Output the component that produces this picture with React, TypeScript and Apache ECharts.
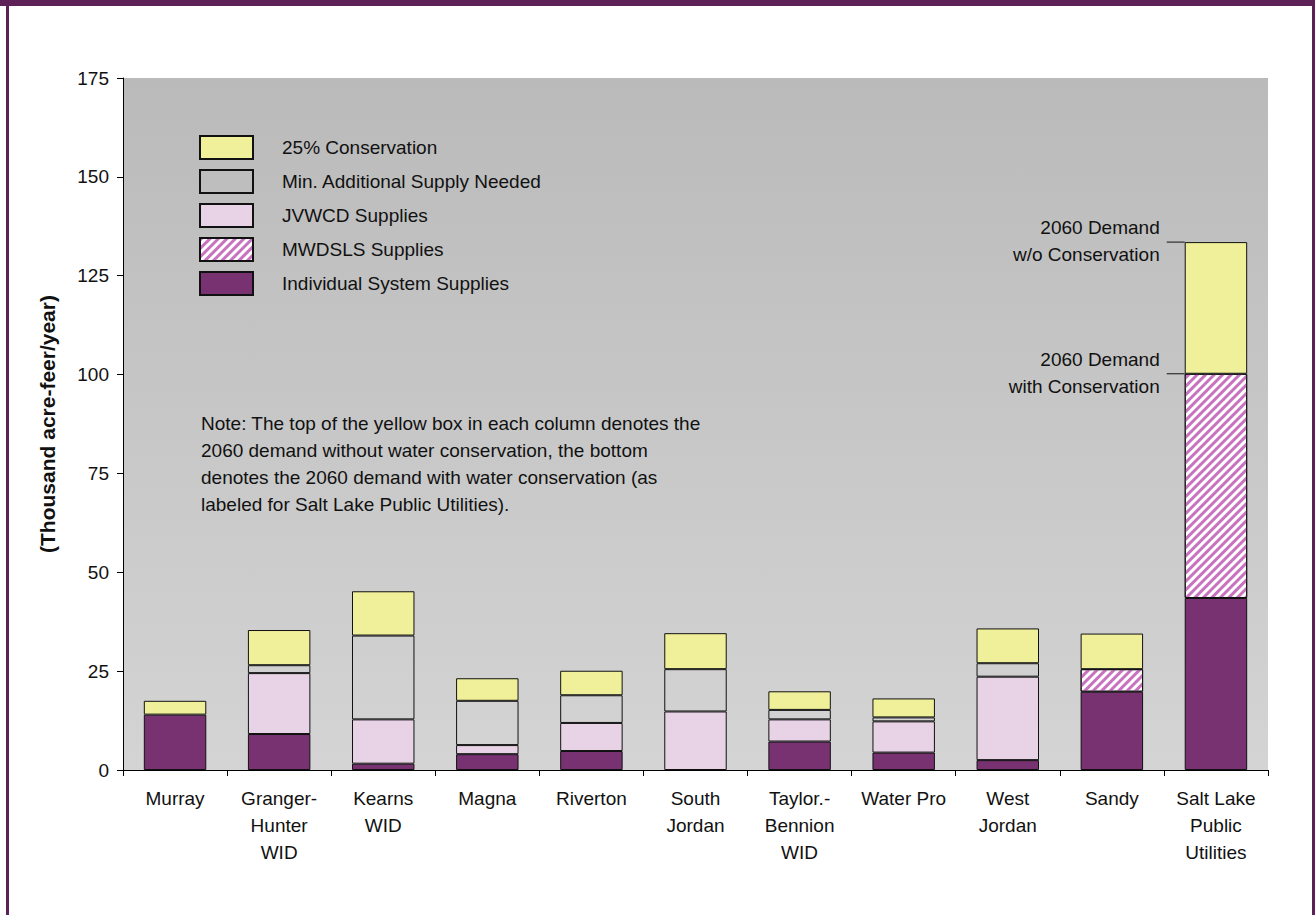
import React, { useEffect, useRef } from "react";
import * as echarts from "echarts";

const categories = [
  "Murray",
  "Granger-\nHunter\nWID",
  "Kearns\nWID",
  "Magna",
  "Riverton",
  "South\nJordan",
  "Taylor.-\nBennion\nWID",
  "Water Pro",
  "West\nJordan",
  "Sandy",
  "Salt Lake\nPublic\nUtilities",
];

const individualSystem = [14.0, 9.1, 1.6, 4.0, 4.8, 0, 7.2, 4.4, 2.5, 19.8, 43.5];
const mwdslsSupplies = [0, 0, 0, 0, 0, 0, 0, 0, 0, 5.7, 56.7];
const jvwcdSupplies = [0, 15.4, 11.2, 2.3, 7.1, 14.8, 5.6, 7.9, 21.1, 0, 0];
const minAdditional = [0, 2.0, 21.2, 11.2, 7.0, 10.7, 2.4, 1.0, 3.4, 0, 0];
const conservation25 = [3.5, 8.9, 11.2, 5.7, 6.2, 9.1, 4.7, 4.8, 8.8, 9.0, 33.3];

const yMin = 0;
const yMax = 175;
const yStep = 25;

const noteLines = [
  "Note: The top of the yellow box in each column denotes the",
  "2060 demand without water conservation, the bottom",
  "denotes the 2060 demand with water conservation (as",
  "labeled for Salt Lake Public Utilities).",
];
const annotTop = ["2060 Demand", "w/o Conservation"];
const annotBottom = ["2060 Demand", "with Conservation"];

const FONT = "'Liberation Sans', Arial, Helvetica, sans-serif";
const FRAME = "#5E2157";

const nz = (arr: number[]) => arr.map((v) => (v === 0 ? "-" : v));

export default function App() {
  const ref = useRef<HTMLDivElement>(null);
  useEffect(() => {
    const chart = echarts.init(ref.current!, null, { renderer: "svg" });
    const border = { borderColor: "#111", borderWidth: 1 };
    const option: any = {
      animation: false,
      backgroundColor: "#ffffff",
      textStyle: { fontFamily: FONT },
      grid: {
        left: 123,
        right: 47,
        top: 78,
        bottom: 145,
        show: true,
        borderWidth: 0,
        backgroundColor: new echarts.graphic.LinearGradient(0, 0, 0, 1, [
          { offset: 0, color: "#BABABA" },
          { offset: 1, color: "#D4D4D4" },
        ]),
      },
      legend: {
        orient: "vertical",
        left: 194,
        top: 130,
        itemWidth: 53,
        itemHeight: 23,
        itemGap: 9,
        icon: "rect",
        selectedMode: false,
        textStyle: { fontSize: 19, color: "#111", fontFamily: FONT, padding: [0, 0, 0, 24] },
        data: [
          "25% Conservation",
          "Min. Additional Supply Needed",
          "JVWCD Supplies",
          "MWDSLS Supplies",
          "Individual System Supplies",
        ],
      },
      xAxis: {
        type: "category",
        data: categories,
        axisLine: { lineStyle: { color: "#000", width: 1 } },
        axisTick: { show: true, length: 6, lineStyle: { color: "#000" } },
        axisLabel: {
          interval: 0,
          fontSize: 19,
          lineHeight: 27,
          color: "#111",
          margin: 15,
          fontFamily: FONT,
        },
      },
      yAxis: {
        type: "value",
        min: yMin,
        max: yMax,
        interval: yStep,
        name: "(Thousand acre-feer/year)",
        nameLocation: "middle",
        nameRotate: 90,
        nameGap: 65,
        nameTextStyle: { fontSize: 21, fontWeight: "bold", color: "#111", fontFamily: FONT },
        axisLine: { show: true, lineStyle: { color: "#000", width: 1 } },
        axisTick: { show: true, length: 6, lineStyle: { color: "#000" } },
        splitLine: { show: false },
        axisLabel: { fontSize: 19, color: "#111", margin: 14, fontFamily: FONT },
      },
      series: [
        {
          name: "Individual System Supplies",
          type: "bar",
          stack: "s",
          barCategoryGap: "40%",
          data: nz(individualSystem),
          itemStyle: { color: "#783272", ...border },
        },
        {
          name: "MWDSLS Supplies",
          type: "bar",
          stack: "s",
          data: nz(mwdslsSupplies),
          itemStyle: {
            color: "#FFFFFF",
            ...border,
            decal: {
              symbol: "rect",
              symbolSize: 1,
              dashArrayX: [1, 0],
              dashArrayY: [3, 2.5],
              rotation: -Math.PI / 4,
              color: "#C873C0",
            },
          },
        },
        {
          name: "JVWCD Supplies",
          type: "bar",
          stack: "s",
          data: nz(jvwcdSupplies),
          itemStyle: { color: "#E8D2E6", ...border },
        },
        {
          name: "Min. Additional Supply Needed",
          type: "bar",
          stack: "s",
          data: nz(minAdditional),
          itemStyle: { color: "rgba(0,0,0,0)", ...border },
        },
        {
          name: "25% Conservation",
          type: "bar",
          stack: "s",
          data: nz(conservation25),
          itemStyle: { color: "#F0F09A", ...border },
        },
      ],
    };
    chart.setOption(option);

    const idx = categories.length - 1;
    const total =
      individualSystem[idx] + mwdslsSupplies[idx] + jvwcdSupplies[idx] + minAdditional[idx] + conservation25[idx];
    const withCons = total - conservation25[idx];
    const pTop = chart.convertToPixel({ gridIndex: 0 }, [idx, total]) as number[];
    const pWith = chart.convertToPixel({ gridIndex: 0 }, [idx, withCons]) as number[];
    const pPrev = chart.convertToPixel({ gridIndex: 0 }, [idx - 1, withCons]) as number[];
    const catW = pTop[0] - pPrev[0];
    const barLeft = pTop[0] - catW * 0.3;

    const textStyle = { fontSize: 19, fill: "#111", fontFamily: FONT, lineHeight: 27 };
    const graphic: any[] = [
      { type: "rect", shape: { x: 0, y: 0, width: 1315, height: 6 }, style: { fill: FRAME }, z: 100 },
      { type: "rect", shape: { x: 6, y: 0, width: 3, height: 915 }, style: { fill: FRAME }, z: 100 },
      { type: "rect", shape: { x: 1312, y: 0, width: 3, height: 915 }, style: { fill: FRAME }, z: 100 },
      {
        type: "text",
        x: 201,
        y: 410,
        style: { ...textStyle, text: noteLines.join("\n"), align: "left", verticalAlign: "top" },
        z: 50,
      },
      {
        type: "line",
        shape: { x1: barLeft - 18, y1: pTop[1], x2: barLeft, y2: pTop[1] },
        style: { stroke: "#111", lineWidth: 1 },
        z: 50,
      },
      {
        type: "line",
        shape: { x1: barLeft - 18, y1: pWith[1], x2: barLeft, y2: pWith[1] },
        style: { stroke: "#111", lineWidth: 1 },
        z: 50,
      },
      {
        type: "text",
        x: barLeft - 25,
        y: pTop[1] - 1,
        style: { ...textStyle, text: annotTop.join("\n"), align: "right", verticalAlign: "middle" },
        z: 50,
      },
      {
        type: "text",
        x: barLeft - 25,
        y: pWith[1] - 1,
        style: { ...textStyle, text: annotBottom.join("\n"), align: "right", verticalAlign: "middle" },
        z: 50,
      },
    ];
    chart.setOption({ graphic });
    return () => chart.dispose();
  }, []);
  return (
    <div
      ref={ref}
      style={{ position: "absolute", left: 0, top: 0, width: 1315, height: 915, background: "#fff" }}
    />
  );
}
